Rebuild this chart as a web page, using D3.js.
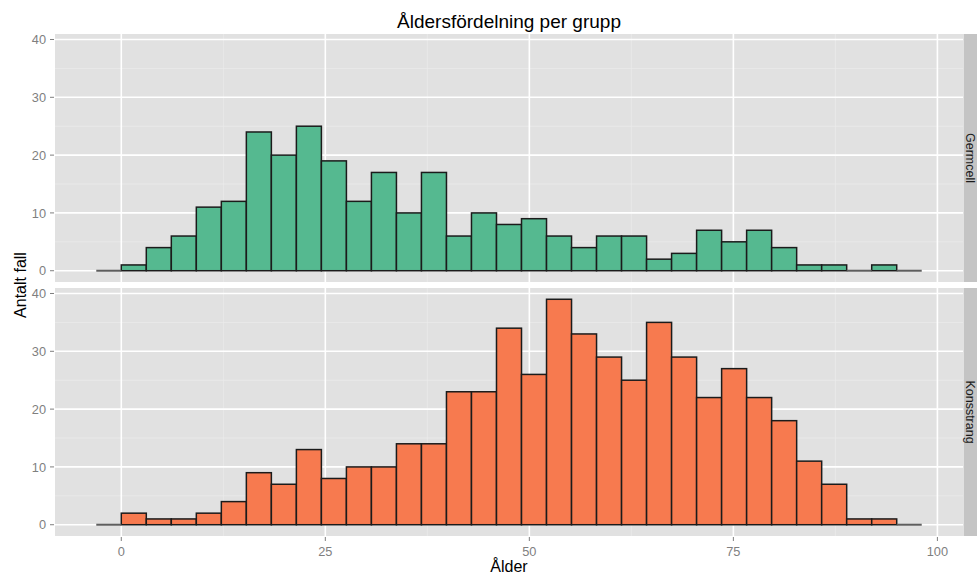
<!DOCTYPE html>
<html>
<head>
<meta charset="utf-8">
<script src="https://cdn.jsdelivr.net/npm/d3@7"></script>
<style>
  html, body { margin: 0; padding: 0; background: #fff; }
  svg { display: block; font-family: "Liberation Sans", Arial, Helvetica, sans-serif; }
</style>
</head>
<body>
<svg id="chart" width="977" height="574"></svg>
<script>
// ── Data (histogram counts per bin) ────────────────────────────────────────
const title      = 'Åldersfördelning per grupp';
const xTitle     = 'Ålder';
const yTitle     = 'Antalt fall';
const groups     = ['Germcell', 'Konsstrang'];
const binWidth   = 3.065;
const firstBin   = -1;   // bins start at firstBin * binWidth
const germcell   = [0, 1, 4, 6, 11, 12, 24, 20, 25, 19, 12, 17, 10, 17, 6, 10,
                    8, 9, 6, 4, 6, 6, 2, 3, 7, 5, 7, 4, 1, 1, 0, 1, 0];
const konsstrang = [0, 2, 1, 1, 2, 4, 9, 7, 13, 8, 10, 10, 14, 14, 23, 23,
                    34, 26, 39, 33, 29, 25, 35, 29, 22, 27, 22, 18, 11, 7, 1, 1, 0];
const xTicks     = [0, 25, 50, 75, 100];
const yTicks     = [0, 10, 20, 30, 40];

const seriesByGroup = { Germcell: germcell, Konsstrang: konsstrang };
const fillByGroup   = { Germcell: '#55b990', Konsstrang: '#f77a4f' };

// ── Layout ────────────────────────────────────────────────────────────────
const svg = d3.select('#chart');
const panelX = [55, 963];
const panels = [[34, 282], [288, 536]];

const nBins = germcell.length;
const xMin = firstBin * binWidth, xMax = (firstBin + nBins) * binWidth;
const xPad = (xMax - xMin) * 0.05;
const x = d3.scaleLinear().domain([xMin - xPad, xMax + xPad]).range(panelX);

const yMaxData = d3.max([...germcell, ...konsstrang]);
const yPad = yMaxData * 0.05;

const bins = d3.range(nBins).map(i => ({
  x0: (firstBin + i) * binWidth,
  x1: (firstBin + i + 1) * binWidth,
  i
}));

groups.forEach((grp, pi) => {
  const [top, bottom] = panels[pi];
  const y = d3.scaleLinear().domain([-yPad, yMaxData + yPad]).range([bottom, top]);
  const g = svg.append('g');

  // panel background
  g.append('rect')
    .attr('x', panelX[0]).attr('y', top)
    .attr('width', panelX[1] - panelX[0]).attr('height', bottom - top)
    .attr('fill', '#e1e1e1');

  // minor grid
  const yMinor = yTicks.slice(0, -1).map(v => v + 5);
  const xMinor = xTicks.slice(0, -1).map(v => v + 12.5);
  g.selectAll('.ymin').data(yMinor).join('line')
    .attr('x1', panelX[0]).attr('x2', panelX[1])
    .attr('y1', d => y(d)).attr('y2', d => y(d))
    .attr('stroke', '#ebebeb').attr('stroke-width', 0.8);
  g.selectAll('.xmin').data(xMinor).join('line')
    .attr('y1', top).attr('y2', bottom)
    .attr('x1', d => x(d)).attr('x2', d => x(d))
    .attr('stroke', '#ebebeb').attr('stroke-width', 0.8);

  // major grid
  g.selectAll('.ymaj').data(yTicks).join('line')
    .attr('x1', panelX[0]).attr('x2', panelX[1])
    .attr('y1', d => y(d)).attr('y2', d => y(d))
    .attr('stroke', '#fff').attr('stroke-width', 1.6);
  g.selectAll('.xmaj').data(xTicks).join('line')
    .attr('y1', top).attr('y2', bottom)
    .attr('x1', d => x(d)).attr('x2', d => x(d))
    .attr('stroke', '#fff').attr('stroke-width', 1.6);

  // bars
  const counts = seriesByGroup[grp];
  g.selectAll('.bar').data(bins.filter(b => counts[b.i] > 0)).join('rect')
    .attr('x', d => x(d.x0)).attr('width', d => x(d.x1) - x(d.x0))
    .attr('y', d => y(counts[d.i])).attr('height', d => y(0) - y(counts[d.i]))
    .attr('fill', fillByGroup[grp])
    .attr('stroke', '#1b1b1b').attr('stroke-width', 1.5);

  // zero bins drawn as a flat line
  g.selectAll('.zero').data(bins.filter(b => counts[b.i] === 0)).join('line')
    .attr('x1', d => x(d.x0)).attr('x2', d => x(d.x1))
    .attr('y1', y(0)).attr('y2', y(0))
    .attr('stroke', '#5e5e5e').attr('stroke-width', 2);

  // y axis ticks and labels
  g.selectAll('.ytick').data(yTicks).join('line')
    .attr('x1', 50).attr('x2', 54)
    .attr('y1', d => y(d)).attr('y2', d => y(d))
    .attr('stroke', '#7f7f7f').attr('stroke-width', 1);
  g.selectAll('.ylab').data(yTicks).join('text')
    .attr('x', 46).attr('y', d => y(d))
    .attr('dy', '0.36em')
    .attr('text-anchor', 'end')
    .attr('font-size', 12.8).attr('fill', '#7f7f7f')
    .text(d => d);

  // strip on the right
  g.append('rect')
    .attr('x', 963.5).attr('y', top)
    .attr('width', 30).attr('height', bottom - top)
    .attr('fill', '#c4c4c4');
  g.append('text')
    .attr('transform', `translate(966,${(top + bottom) / 2}) rotate(90)`)
    .attr('text-anchor', 'middle')
    .attr('font-size', 12.5).attr('fill', '#1a1a1a')
    .text(grp);
});

// x axis (below bottom panel)
const axisY = panels[1][1];
svg.selectAll('.xtick').data(xTicks).join('line')
  .attr('x1', d => x(d)).attr('x2', d => x(d))
  .attr('y1', axisY + 1).attr('y2', axisY + 5)
  .attr('stroke', '#7f7f7f').attr('stroke-width', 1);
svg.selectAll('.xlab').data(xTicks).join('text')
  .attr('x', d => x(d)).attr('y', axisY + 20)
  .attr('text-anchor', 'middle')
  .attr('font-size', 12.8).attr('fill', '#7f7f7f')
  .text(d => d);

// titles
const cx = (panelX[0] + panelX[1]) / 2;
svg.append('text')
  .attr('x', cx).attr('y', 28)
  .attr('text-anchor', 'middle')
  .attr('font-size', 19).attr('fill', '#000')
  .text(title);
svg.append('text')
  .attr('x', cx).attr('y', 572)
  .attr('text-anchor', 'middle')
  .attr('font-size', 16).attr('fill', '#000')
  .text(xTitle);
svg.append('text')
  .attr('transform', `translate(25.5,${(panels[0][0] + panels[1][1]) / 2}) rotate(-90)`)
  .attr('text-anchor', 'middle')
  .attr('font-size', 16).attr('fill', '#000')
  .text(yTitle);
</script>
</body>
</html>
